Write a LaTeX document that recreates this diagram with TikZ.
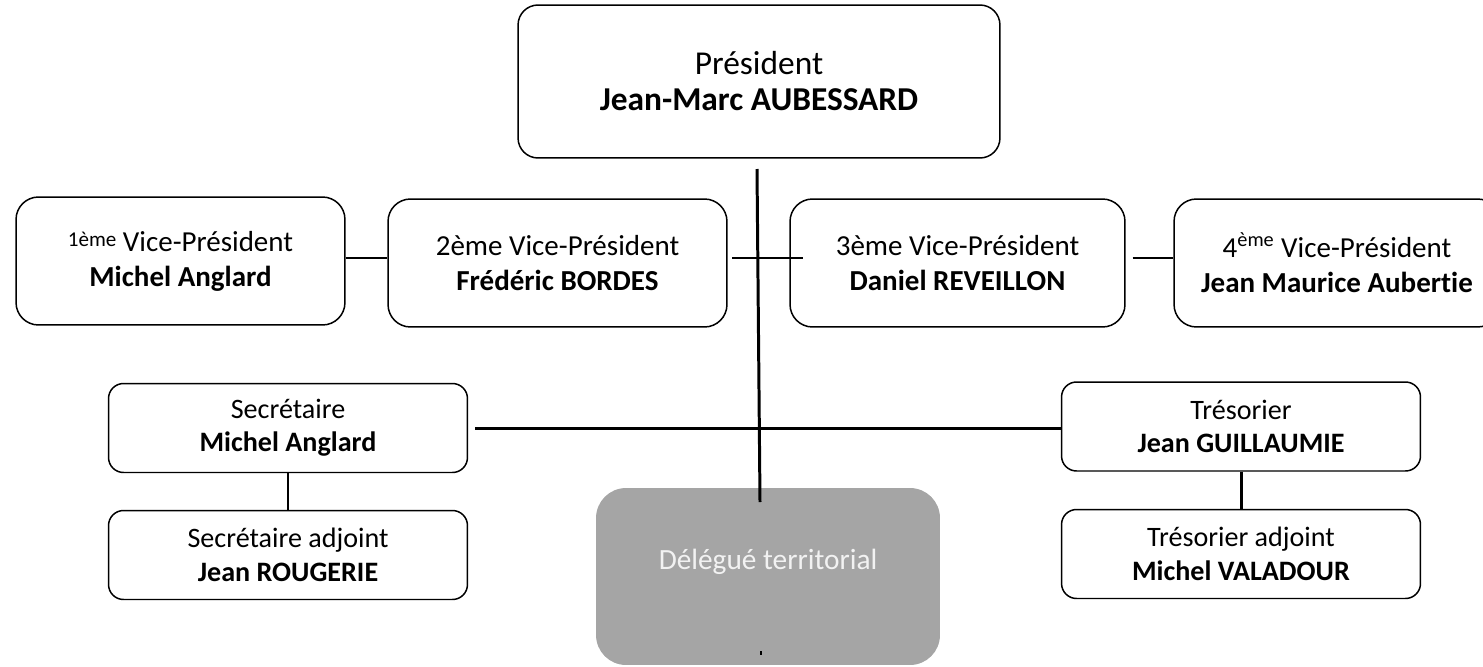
\documentclass[tikz,border=0pt]{standalone}
\usepackage{fontspec}
\setmainfont{Carlito}[Ligatures=NoCommon]
\usetikzlibrary{calc}
\definecolor{delegfill}{HTML}{A5A5A5}
\definecolor{delegtext}{HTML}{F2F2F2}

\begin{document}
\begin{tikzpicture}[x=0.02cm, y=-0.02cm,
		box/.style={draw=black, line width=0.85pt, rounded corners=0.45cm, align=center, inner sep=0pt},
		vpbox/.style={box, minimum height=2.56cm, font=\fontsize{16.5}{20}\selectfont},
		officebox/.style={box, rounded corners=0.3cm, minimum width=7.18cm, minimum height=1.78cm, font=\fontsize{16}{19}\selectfont},
		link/.style={line width=1.7pt}]
		%%%%% START %%%%%
		
		\clip (0, 0) rectangle (1483, 666);
		
		\node[box, rounded corners=0.4cm, minimum width=9.64cm, minimum height=3.06cm, font=\fontsize{19}{20.5}\selectfont] (pres) at (759, 81.5) {Président\\\textbf{Jean-Marc AUBESSARD}};
		
		\node[vpbox, minimum width=6.58cm] (vpA) at (180.5, 261) {{\fontsize{12}{12}\selectfont\raisebox{0.5ex}{1ème}} Vice-Président\\\textbf{Michel Anglard}};
		\node[vpbox, minimum width=6.78cm] (vpB) at (557.5, 263) {2ème Vice-Président\\\textbf{Frédéric BORDES}};
		\node[vpbox, minimum width=6.70cm] (vpC) at (957.5, 263) {3ème Vice-Président\\\textbf{Daniel REVEILLON}};
		\node[vpbox, minimum width=6.52cm] (vpD) at (1337, 263) {4\textsuperscript{ème} Vice-Président\\\textbf{Jean Maurice Aubertie}};
		
		\node[officebox] (sec) at (288, 428) {Secrétaire\\\textbf{Michel Anglard}};
		\node[officebox] (secadj) at (288, 555) {Secrétaire adjoint\\\textbf{Jean ROUGERIE}};
		\node[officebox] (tres) at (1241, 426.5) {Trésorier\\\textbf{Jean GUILLAUMIE}};
		\node[officebox] (tresadj) at (1241, 554) {Trésorier adjoint\\\textbf{Michel VALADOUR}};
		
		\node[fill=delegfill, rounded corners=0.6cm, minimum width=6.88cm, minimum height=3.54cm, inner sep=0pt] (deleg) at (768, 576.5) {};
		\node[text=delegtext, font=\fontsize{16.7}{20}\selectfont] (delegtxt) at (768, 562) {Délégué territorial};
		
		\coordinate (trunktop) at (757, 169);
		\coordinate (trunkend) at (760, 502);
		\coordinate (crossL) at (732, 258);
		\coordinate (crossR) at (803, 258);
		
		\draw[link] (trunktop) -- (trunkend);
		\draw[link] (crossL) -- (crossR);
		\draw[link] (vpA.east |- crossL) -- (vpB.west |- crossL);
		\draw[link] ([xshift=0.14cm]vpC.east |- crossR) -- (vpD.west |- crossR);
		
		\draw[link] ([xshift=0.14cm]sec.east) -- (sec.east -| tres.west);
		\draw[link] (sec.south) -- (secadj.north);
		\draw[link] (tres.south) -- (tresadj.north);
		
		\draw[line width=0.6pt] (761, 651) -- (761, 655);
		
		%%%%% END %%%%%
	\end{tikzpicture}
\end{document}
